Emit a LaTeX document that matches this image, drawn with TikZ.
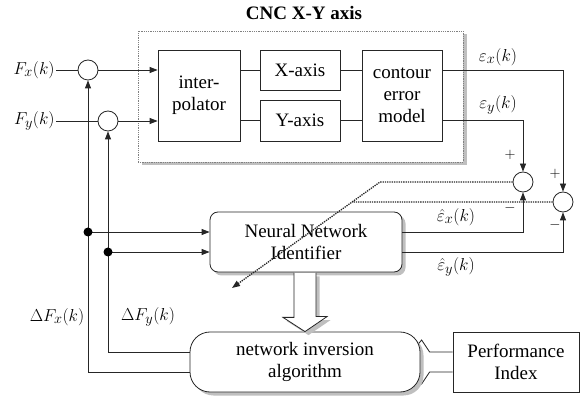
\documentclass[tikz,border=0pt]{standalone}
\usepackage{fontspec}
\setmainfont{Liberation Serif}
\usetikzlibrary{arrows.meta,shadows,calc}
\begin{document}
\begin{tikzpicture}[x=1pt,y=-1pt, line width=0.8pt, draw=black!85,
  every node/.style={font=\fontsize{19}{22}\selectfont},
  box/.style={draw=black!85, fill=white, inner sep=0pt, align=center},
  shad/.style={drop shadow={shadow xshift=3.5pt,shadow yshift=-3.5pt,opacity=1,fill=black!25}},
  sum/.style={draw=black!85, circle, fill=white, minimum size=20pt, inner sep=0pt},
  arr/.style={-{Triangle[length=8pt,width=6pt]}},
  lab/.style={inner sep=1pt},
  sign/.style={inner sep=0pt, font=\fontsize{15}{15}\selectfont},
  dotline/.style={densely dotted, line width=1.3pt}]

\useasboundingbox (0,0) rectangle (581,403);

% title and frame
\node[font=\bfseries\fontsize{19}{22}\selectfont] (title) at (304,13) {CNC X-Y axis};
\node[draw=black!50, densely dotted, fill=white, minimum width=325pt, minimum height=131pt, inner sep=0pt, shad] (frame) at (300.5,96.5) {};

% blocks in the frame
\node[box, minimum width=82pt, minimum height=91pt] (interp) at (199,95.5) {inter-\\polator};
\node[box, minimum width=80pt, minimum height=40pt] (xaxis) at (300,70) {X-axis};
\node[box, minimum width=80pt, minimum height=41pt] (yaxis) at (300,120.5) {Y-axis};
\node[box, minimum width=80pt, minimum height=91pt] (contour) at (402,95.5) {contour\\error\\model};

% summing junctions
\node[sum] (sx) at (88,70) {};
\node[sum] (sy) at (108,121) {};
\node[sum] (s1) at (523,182) {};
\node[sum] (s2) at (563,202) {};

% neural network identifier
\node[box, rounded corners=8pt, minimum width=192pt, minimum height=60pt, shad] (nn) at (306,242) {Neural Network\\Identifier};

% performance index
\node[box, minimum width=126pt, minimum height=60pt] (pi) at (516,362) {Performance\\Index};

% hollow arrow performance index -> inversion
\coordinate (pa1) at ([yshift=10pt]pi.west);
\coordinate (pa2) at ([yshift=-10pt]pi.west);
\draw[fill=white] (pa1) -- ++(-23,0) -- ++(-8,-12) -- ++(-18,22) -- ++(18,22) -- ++(8,-12) -- (pa2);

% network inversion algorithm
\node[box, rounded corners=20pt, minimum width=230pt, minimum height=60pt, shad] (nia) at (305,362) {network inversion\\algorithm};

% hollow arrow NN -> inversion
\draw[fill=white, shad] ([xshift=-11pt,yshift=-0.5pt]nia.north |- nn.south) -- ++(0,44.5) -- ++(-11,0) -- (nia.north) -- ++(22,-15) -- ++(-11,0) -- ([xshift=11pt,yshift=-0.5pt]nia.north |- nn.south);

% input labels
\node[lab, anchor=east] (fxl) at (56,70) {$F_x(k)$};
\node[lab, anchor=east] (fyl) at (56,121) {$F_y(k)$};

% inputs
\draw (fxl.east) -- (sx.west);
\draw[arr] (sx.east) -- (sx -| interp.west);
\draw (fyl.east) -- (sy.west);
\draw[arr] (sy.east) -- (sy -| interp.west);

% inner connections
\draw (xaxis -| interp.east) -- (xaxis.west);
\draw (yaxis -| interp.east) -- (yaxis.west);
\draw (xaxis.east) -- (xaxis -| contour.west);
\draw (yaxis.east) -- (yaxis -| contour.west);

% outputs
\draw[arr] (xaxis -| contour.east) -| (s2.north);
\draw[arr] (yaxis -| contour.east) -| (s1.north);
\draw[arr] ([yshift=10pt]nn.east) -| (s1.south);
\draw[arr] ([yshift=-10pt]nn.east) -| (s2.south);

% feedback
\draw[arr] ([yshift=-10pt]nia.west) -| (sx.south);
\draw[arr] ([yshift=10pt]nia.west) -| (sy.south);

% NN inputs
\coordinate (in1) at ([yshift=10pt]nn.west);
\coordinate (in2) at ([yshift=-10pt]nn.west);
\draw[arr] (sx |- in1) -- (in1);
\draw[arr] (sy |- in2) -- (in2);
\fill (sx |- in1) circle (4.5);
\fill (sy |- in2) circle (4.5);

% dotted adaptation arrow
\coordinate (bend) at (380,182);
\coordinate (dtip) at (232,288);
\coordinate (dmeet) at ($(bend)!0.1887!(dtip)$);
\draw[dotline, arr] (s1.west) -- (bend) -- (dtip);
\draw[dotline] (s2.west) -- (dmeet);

% labels
\node[lab] (ex) at (498,57) {$\varepsilon_x(k)$};
\node[lab] (ey) at (498,105) {$\varepsilon_y(k)$};
\node[lab] (ehx) at (456,217) {$\hat{\varepsilon}_x(k)$};
\node[lab] (ehy) at (456,267) {$\hat{\varepsilon}_y(k)$};
\node[lab] (dfx) at (57,317) {$\Delta F_x(k)$};
\node[lab] (dfy) at (148,317) {$\Delta F_y(k)$};

% signs
\node[sign] (p1) at (510,155) {$+$};
\node[sign] (p2) at (555,174) {$+$};
\node[sign] (m1) at (510,208) {$-$};
\node[sign] (m2) at (555,225) {$-$};
\end{tikzpicture}
\end{document}
